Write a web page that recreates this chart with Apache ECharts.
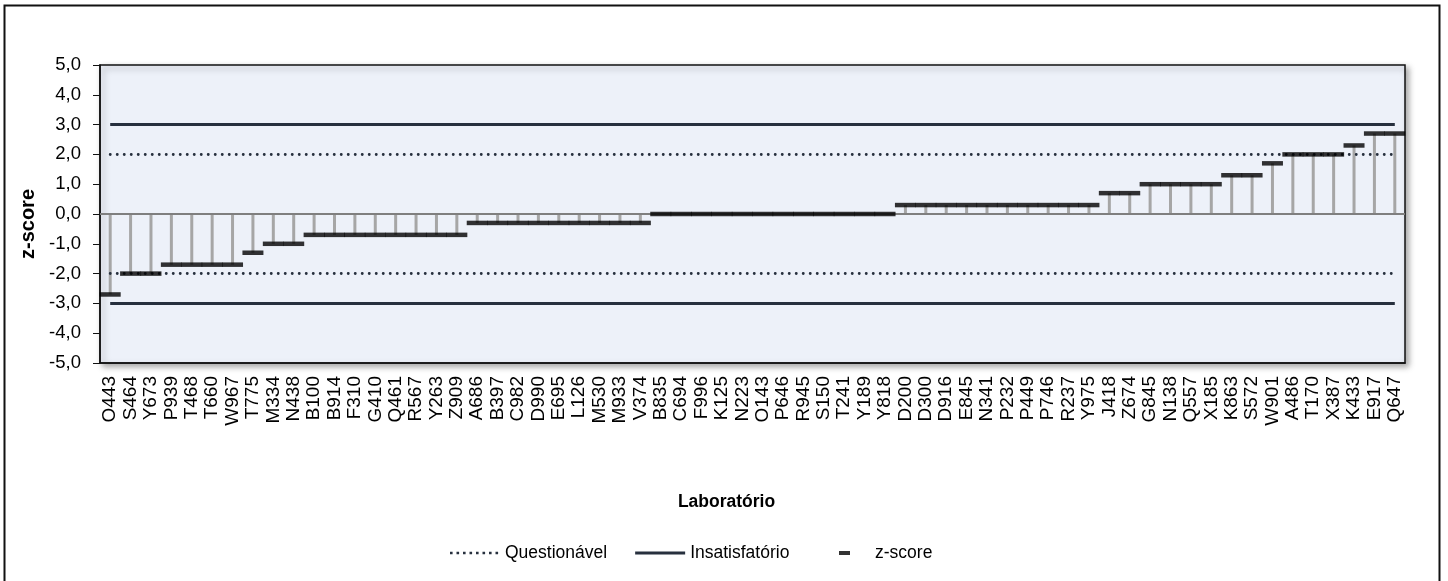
<!DOCTYPE html>
<html>
<head>
<meta charset="utf-8">
<script src="https://cdn.jsdelivr.net/npm/echarts@6/dist/echarts.min.js"></script>
<style>
  html, body { margin: 0; padding: 0; background: #fff; }
  #chart { width: 1448px; height: 581px; }
</style>
</head>
<body>
<div id="chart"></div>
<script>
// Laboratórios participantes, ordenados pelo z-score
const categories = [
  'O443', 'S464', 'Y673', 'P939', 'T468', 'T660', 'W967', 'T775', 'M334', 'N438',
  'B100', 'B914', 'F310', 'G410', 'Q461', 'R567', 'Y263', 'Z909',
  'A686', 'B397', 'C982', 'D990', 'E695', 'L126', 'M530', 'M933', 'V374',
  'B835', 'C694', 'F996', 'K125', 'N223', 'O143', 'P646', 'R945', 'S150', 'T241', 'Y189', 'Y818',
  'D200', 'D300', 'D916', 'E845', 'N341', 'P232', 'P449', 'P746', 'R237', 'Y975',
  'J418', 'Z674', 'G845', 'N138', 'Q557', 'X185', 'K863', 'S572', 'W901',
  'A486', 'T170', 'X387', 'K433', 'E917', 'Q647'
];

// z-score de cada laboratório
const zScores = [
  -2.7, -2.0, -2.0, -1.7, -1.7, -1.7, -1.7, -1.3, -1.0, -1.0,
  -0.7, -0.7, -0.7, -0.7, -0.7, -0.7, -0.7, -0.7,
  -0.3, -0.3, -0.3, -0.3, -0.3, -0.3, -0.3, -0.3, -0.3,
  0.0, 0.0, 0.0, 0.0, 0.0, 0.0, 0.0, 0.0, 0.0, 0.0, 0.0, 0.0,
  0.3, 0.3, 0.3, 0.3, 0.3, 0.3, 0.3, 0.3, 0.3, 0.3,
  0.7, 0.7, 1.0, 1.0, 1.0, 1.0, 1.3, 1.3, 1.7,
  2.0, 2.0, 2.0, 2.3, 2.7, 2.7
];

// Limites de avaliação
const questionableLimits = [-2, 2];
const unsatisfactoryLimits = [-3, 3];

// Eixo Y
const yMin = -5, yMax = 5, yStep = 1;

const FONT = 'Liberation Sans, Arial, sans-serif';
const LIMIT_COLOR = '#27303e';

function limitLines(values) {
  const first = categories[0];
  const last = categories[categories.length - 1];
  return values.map(v => [{ coord: [first, v] }, { coord: [last, v] }]);
}

// Ícones da legenda: linha pontilhada e linha contínua (50 x 3)
let dottedIcon = 'path://';
for (let x = 0; x < 50; x += 6.5) {
  dottedIcon += `M${x},0.2h2.6v2.6h-2.6z`;
}
dottedIcon += 'M0,0M50,3';
const solidIcon = 'path://M0,0H50V3H0Z';

const DOTS = [0.1, 6.9];

const chart = echarts.init(document.getElementById('chart'), null, { renderer: 'canvas' });

chart.setOption({
  animation: false,
  backgroundColor: '#ffffff',
  textStyle: { fontFamily: FONT },
  graphic: [{
    type: 'rect',
    shape: { x: 4.5, y: 5.5, width: 1435, height: 600 },
    style: { fill: 'none', stroke: '#111', lineWidth: 2 },
    silent: true,
    z: 100
  }],
  grid: {
    left: 100, right: 43, top: 65, bottom: 218,
    show: true,
    backgroundColor: '#edf1f9',
    borderColor: '#111',
    borderWidth: 1.5,
    shadowColor: 'rgba(0,0,0,0.35)',
    shadowBlur: 6,
    shadowOffsetX: 3,
    shadowOffsetY: 3
  },
  legend: [{
    left: 450,
    top: 544,
    padding: 0,
    itemWidth: 50,
    itemHeight: 3,
    itemGap: 28,
    textStyle: { fontSize: 17.5, color: '#000', fontFamily: FONT },
    data: [
      { name: 'Questionável', icon: dottedIcon },
      { name: 'Insatisfatório', icon: solidIcon }
    ]
  }, {
    left: 839,
    top: 544,
    padding: 0,
    itemWidth: 11,
    itemHeight: 4,
    textStyle: { fontSize: 17.5, color: '#000', fontFamily: FONT, padding: [0, 0, 0, 20] },
    data: [{ name: 'z-score', icon: 'rect' }]
  }],
  xAxis: {
    type: 'category',
    data: categories,
    boundaryGap: true,
    name: 'Laboratório',
    nameLocation: 'middle',
    nameGap: 130,
    nameTextStyle: { fontSize: 17.5, fontWeight: 'bold', color: '#000', padding: [0, 52, 0, 0] },
    axisLine: { onZero: false, lineStyle: { color: '#111', width: 1.5 } },
    axisTick: { show: false },
    axisLabel: { interval: 0, rotate: 90, fontSize: 19, color: '#000', margin: 13 },
    splitLine: { show: false }
  },
  yAxis: {
    type: 'value',
    min: yMin,
    max: yMax,
    interval: yStep,
    name: 'z-score',
    nameLocation: 'middle',
    nameGap: 55,
    nameRotate: 90,
    nameTextStyle: { fontSize: 20, fontWeight: 'bold', color: '#000', padding: [0, 0, 0, -20] },
    axisLine: { show: true, lineStyle: { color: '#111', width: 1.5 } },
    axisTick: { show: true, length: 7, lineStyle: { color: '#111' } },
    axisLabel: {
      fontSize: 18.5, color: '#000', margin: 19,
      formatter: v => v.toFixed(1).replace('.', ',')
    },
    splitLine: { show: false }
  },
  series: [
    {
      name: 'Questionável',
      type: 'line',
      data: [],
      symbol: 'none',
      lineStyle: { type: DOTS, width: 2.8, color: LIMIT_COLOR, cap: 'round' },
      itemStyle: { color: LIMIT_COLOR },
      markLine: {
        silent: true,
        symbol: 'none',
        label: { show: false },
        lineStyle: { type: DOTS, width: 2.8, color: LIMIT_COLOR, cap: 'round' },
        data: limitLines(questionableLimits)
      },
      z: 3
    },
    {
      name: 'Insatisfatório',
      type: 'line',
      data: [],
      symbol: 'none',
      lineStyle: { type: 'solid', width: 3, color: LIMIT_COLOR },
      itemStyle: { color: LIMIT_COLOR },
      markLine: {
        silent: true,
        symbol: 'none',
        label: { show: false },
        lineStyle: { type: 'solid', width: 3, color: LIMIT_COLOR },
        data: limitLines(unsatisfactoryLimits)
      },
      z: 3
    },
    {
      // hastes do zero até o z-score
      name: 'haste',
      type: 'bar',
      data: zScores,
      barWidth: 3,
      itemStyle: { color: '#a6a6a6' },
      markLine: {
        silent: true,
        symbol: 'none',
        label: { show: false },
        lineStyle: { type: 'solid', width: 2, color: '#7f7f7f' },
        data: [{ yAxis: 0 }]
      },
      z: 2
    },
    {
      name: 'z-score',
      type: 'scatter',
      data: zScores,
      symbol: 'rect',
      symbolSize: [21, 4.5],
      itemStyle: { color: '#000' },
      z: 5
    }
  ]
});
</script>
</body>
</html>
